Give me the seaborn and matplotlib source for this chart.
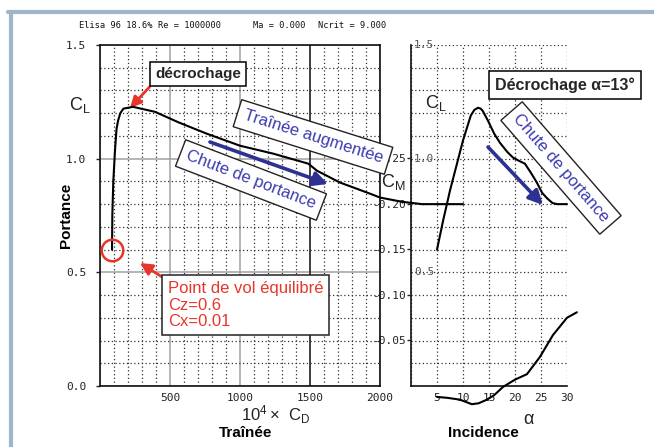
import seaborn as sns
import matplotlib.pyplot as plt
import numpy as np
from matplotlib.lines import Line2D

sns.set_theme(style="white")
plt.rcParams['font.family'] = ['Liberation Sans', 'DejaVu Sans']

# drag polar (10^4 x CD, CL)
cd_1e4 = [86, 88, 95, 107, 118, 129, 145, 167, 236, 393, 560, 762, 1000,
          1238, 1488, 1550, 1714, 1929, 2000, 2160, 2300, 2593]
cl_polar = [0.60, 0.75, 0.90, 1.035, 1.13, 1.167, 1.20, 1.22, 1.228, 1.206,
            1.16, 1.11, 1.057, 1.022, 0.978, 0.947, 0.895, 0.846, 0.829,
            0.81, 0.80, 0.80]

# lift curve (alpha, CL)
alpha = [5, 6.2, 7.5, 10, 11.5, 12.2, 12.9, 13.4, 13.8, 14.8, 16, 17.1, 18.5,
         19.6, 20.8, 21.9, 23, 24.2, 25.2, 26.2, 27.2, 28.1, 30]
cl = [0.60, 0.73, 0.86, 1.08, 1.19, 1.215, 1.224, 1.22, 1.21, 1.167, 1.11,
      1.07, 1.03, 1.005, 0.99, 0.978, 0.94, 0.895, 0.85, 0.825, 0.805, 0.80,
      0.80]

# moment curve (alpha, CM)
alpha_cm = [5, 7, 9.4, 11.7, 13, 14.6, 16, 17.7, 20, 22.3, 24.8, 27.3, 30, 31.9]
cm = [0.012, 0.013, 0.015, 0.020, 0.019, 0.015, 0.010, 0.001, -0.007,
      -0.013, -0.032, -0.056, -0.075, -0.081]

cm_ticks = [-0.05, -0.10, -0.15, -0.20, -0.25]
cd_ticks = [0, 500, 1000, 1500, 2000]
alpha_ticks = [0, 5, 10, 15, 20, 25, 30]

W, H = 654, 447
fig = plt.figure(figsize=(W / 100, H / 100), dpi=100)
fig.patch.set_facecolor("white")

def P(x, y):
    # figure pixel position from top-left
    return (x, H - y)

mono = "DejaVu Sans Mono"
BLUE_T = "#3b3bb0"
BLUE_A = "#2e3192"
RED = "#e8352b"

# ---- left panel: CL vs CD
ax_l = fig.add_axes([100 / W, 61 / H, 280 / W, 341 / H])
ax_l.set_zorder(3)
ax_l.patch.set_visible(False)
ax_l.set_xlim(0, 2000)
ax_l.set_ylim(0, 1.5)
ax_l.set_xticks(cd_ticks, ["", "500", "1000", "1500", "2000"])
ax_l.set_yticks([0, 0.5, 1.0, 1.5], ["0.0", "0.5", "1.0", "1.5"])
ax_l.set_xticks(np.arange(0, 2001, 100), minor=True)
ax_l.set_yticks(np.arange(0, 1.51, 0.1), minor=True)
ax_l.grid(which="minor", ls=(0, (1, 2)), color="#333", lw=0.9)
ax_l.grid(which="major", ls="-", color="#a0a0a0", lw=1.1)
ax_l.axvline(1500, color="#222", lw=1.1)
ax_l.tick_params(axis="x", which="both", length=0, pad=5, labelsize=8)
ax_l.tick_params(axis="y", which="major", left=True, length=3, width=1,
                 pad=7, labelsize=8)
ax_l.tick_params(axis="y", which="minor", length=0)
for lab in ax_l.get_xticklabels() + ax_l.get_yticklabels():
    lab.set_family(mono)
    lab.set_color("#222")
for s in ax_l.spines.values():
    s.set_color("#111")
    s.set_linewidth(1.2)

sns.lineplot(x=cd_1e4, y=cl_polar, ax=ax_l, color="black", lw=1.5,
             sort=False, estimator=None, clip_on=False, zorder=5)
ax_l.plot(cd_1e4[0], cl_polar[0], marker="o", ms=15.5, mfc="none", mec=RED,
          mew=1.8, clip_on=False, zorder=6)

# ---- right panel: CL vs alpha
ax_r = fig.add_axes([411 / W, 61 / H, 156 / W, 341 / H])
ax_r.patch.set_visible(False)
ax_r.set_xlim(0, 30)
ax_r.set_ylim(0, 1.5)
ax_r.set_xticks(alpha_ticks, [""] + [str(a) for a in alpha_ticks[1:]])
ax_r.set_yticks(np.arange(0, 1.51, 0.1), [])
ax_r.grid(which="major", ls=(0, (1, 2)), color="#333", lw=0.9)
ax_r.tick_params(axis="both", length=0, labelsize=8)
ax_r.tick_params(axis="x", pad=5)
for lab in ax_r.get_xticklabels():
    lab.set_family(mono)
    lab.set_color("#222")
for side in ["top", "right"]:
    ax_r.spines[side].set_visible(False)
for side in ["left", "bottom"]:
    ax_r.spines[side].set_color("#111")
    ax_r.spines[side].set_linewidth(1.2)
for v in [0.5, 1.0, 1.5]:
    ax_r.text(0.02, v, f"{v:.1f}", transform=ax_r.get_yaxis_transform(),
              ha="left", va="center", family=mono, fontsize=8, color="#555")

sns.lineplot(x=alpha, y=cl, ax=ax_r, color="black", lw=1.5, sort=False,
             estimator=None, clip_on=False)

# ---- moment axis
ax_cm = ax_r.twinx()
ax_cm.set_ylim(0, -0.3747)
ax_cm.yaxis.set_ticks_position("left")
ax_cm.set_yticks(cm_ticks, [f"{t:.2f}" for t in cm_ticks])
ax_cm.tick_params(axis="y", length=3, width=1, pad=1, labelsize=8)
for lab in ax_cm.get_yticklabels():
    lab.set_family(mono)
    lab.set_color("#222")
for s in ax_cm.spines.values():
    s.set_visible(False)
sns.lineplot(x=alpha_cm, y=cm, ax=ax_cm, color="black", lw=1.5, sort=False,
             estimator=None, clip_on=False)

# ---- header
for x, s in [(79, "Elisa 96 18.6%"), (158, "Re = 1000000"),
             (253, "Ma = 0.000"), (318, "Ncrit = 9.000")]:
    fig.text(x / W, 1 - 25 / H, s, family=mono, fontsize=6.2, va="center",
             ha="left", color="#111")

# ---- axis labels
thin = dict(color="#222", ha="center", va="center", xycoords="figure pixels",
            annotation_clip=False)
ax_l.annotate(r"$\mathregular{C_L}$", xy=P(80, 105), fontsize=13, **thin)
ax_l.annotate(r"$\mathregular{C_L}$", xy=P(436, 103), fontsize=13, **thin)
ax_l.annotate(r"$\mathregular{C_M}$", xy=P(393, 182), fontsize=13, **thin)
ax_l.annotate(r"$\mathregular{10^4\times\ C_D}$", xy=P(276, 415), fontsize=12,
              **thin)
ax_l.annotate("α", xy=P(528, 419), fontsize=13, **thin)
bold = dict(color="black", ha="center", va="center", fontweight="bold",
            xycoords="figure pixels", annotation_clip=False, fontsize=11)
ax_l.annotate("Portance", xy=P(66, 215), rotation=90, **bold)
ax_l.annotate("Traînée", xy=P(246, 433), **bold)
ax_l.annotate("Incidence", xy=P(483, 433), **bold)

# ---- annotations
box = dict(boxstyle="square,pad=0.35", fc="white", ec="black", lw=1.1)
ax_l.annotate("décrochage", xy=P(130, 108), xycoords="figure pixels",
              xytext=P(198, 74), textcoords="figure pixels", ha="center",
              va="center", fontsize=11, fontweight="bold", bbox=box,
              annotation_clip=False,
              arrowprops=dict(arrowstyle="-|>,head_length=0.6,head_width=0.3",
                              color=RED, lw=2, relpos=(0, 0),
                              shrinkA=0, shrinkB=0))

ax_l.annotate("Point de vol équilibré\nCz=0.6\nCx=0.01", xy=P(140, 263),
              xycoords="figure pixels", xytext=P(168, 305),
              textcoords="figure pixels", ha="left", va="center",
              fontsize=12, color=RED, linespacing=1.15,
              bbox=dict(boxstyle="square,pad=0.35", fc="white", ec="#222",
                        lw=1.1),
              annotation_clip=False,
              arrowprops=dict(arrowstyle="-|>,head_length=0.6,head_width=0.3",
                              color=RED, lw=2, relpos=(0, 1),
                              shrinkA=0, shrinkB=0))

ax_l.annotate("Décrochage α=13°", xy=P(565, 85), xycoords="figure pixels",
              ha="center", va="center", fontsize=11.5, fontweight="bold",
              bbox=dict(boxstyle="square,pad=0.4", fc="white", ec="black",
                        lw=1.1), annotation_clip=False)

rbox = dict(boxstyle="square,pad=0.4", fc="white", ec="#222", lw=1.0)
ax_l.annotate("Traînée augmentée", xy=P(313, 137), xycoords="figure pixels",
              ha="center", va="center", rotation=-17.5, rotation_mode="anchor",
              fontsize=12, color=BLUE_T, bbox=rbox, annotation_clip=False)
ax_l.annotate("Chute de portance", xy=P(251, 180), xycoords="figure pixels",
              ha="center", va="center", rotation=-21, rotation_mode="anchor",
              fontsize=12, color=BLUE_T, bbox=rbox, annotation_clip=False)
ax_l.annotate("Chute de portance", xy=P(561, 168), xycoords="figure pixels",
              ha="center", va="center", rotation=-49, rotation_mode="anchor",
              fontsize=12, color=BLUE_T, bbox=rbox, annotation_clip=False)

arrow_blue = dict(arrowstyle="-|>,head_length=0.7,head_width=0.35",
                  color=BLUE_A, lw=2.6, shrinkA=0, shrinkB=0)
ax_l.annotate("", xy=P(328, 184), xytext=P(210, 142), xycoords="figure pixels",
              textcoords="figure pixels", arrowprops=arrow_blue,
              annotation_clip=False)
ax_l.annotate("", xy=P(543, 205), xytext=P(488, 147), xycoords="figure pixels",
              textcoords="figure pixels", arrowprops=arrow_blue,
              annotation_clip=False)

# ---- picture frame
frame = "#9fb5c9"
fig.add_artist(Line2D([8 / W, 1], [1 - 12 / H, 1 - 12 / H],
                      transform=fig.transFigure, color=frame, lw=3))
fig.add_artist(Line2D([11 / W, 11 / W], [0, 1 - 12 / H],
                      transform=fig.transFigure, color=frame, lw=3))

fig.savefig("out.png", dpi=100)
